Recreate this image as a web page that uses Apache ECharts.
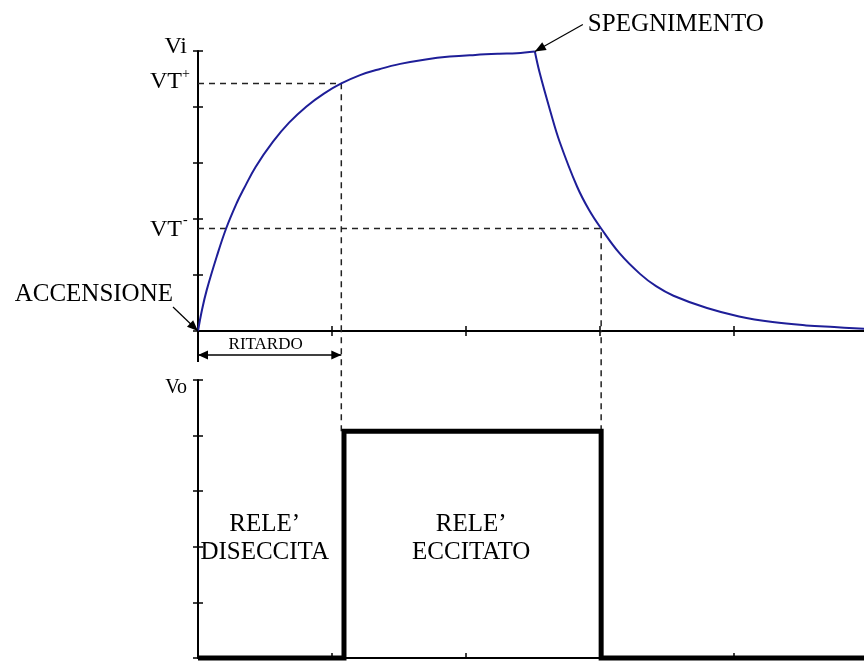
<!DOCTYPE html>
<html>
<head>
<meta charset="utf-8">
<script src="https://cdn.jsdelivr.net/npm/echarts/dist/echarts.min.js"></script>
<style>
html, body { margin: 0; padding: 0; background: #fff; }
#chart { width: 864px; height: 661px; }
</style>
</head>
<body>
<div id="chart"></div>
<script>
// ingresso Vi: carica fino all'accensione, poi scarica
var riseT = [0, 0.03, 0.065, 0.14, 0.21, 0.29, 0.34, 0.43, 0.56, 0.68, 0.81, 0.94, 1.07, 1.21, 1.36, 1.51, 1.70, 1.88, 2.07, 2.25, 2.38, 2.515]
var riseV = [0, 0.38, 0.73, 1.33, 1.83, 2.29, 2.53, 2.93, 3.38, 3.72, 4.01, 4.24, 4.42, 4.57, 4.68, 4.77, 4.85, 4.90, 4.93, 4.95, 4.96, 4.99]
var fallT = [2.515, 2.55, 2.63, 2.70, 2.83, 2.92, 3.01, 3.15, 3.30, 3.42, 3.55, 3.80, 4.04, 4.29, 4.54, 4.75, 4.98]
var fallV = [4.99, 4.62, 3.93, 3.38, 2.58, 2.16, 1.83, 1.38, 1.02, 0.80, 0.63, 0.41, 0.26, 0.16, 0.10, 0.07, 0.04]

// soglie e istanti di commutazione
var vtPlus = 4.42
var vtMinus = 1.83
var tOn = 1.07
var tOff = 3.01

// uscita Vo (relè)
var voT = [0, 1.09, 1.09, 3.01, 3.01, 4.98]
var voV = [0, 0, 4.08, 4.08, 0, 0]
var voHigh = 4.08

var tMax = 4.98

function zip (a, b) {
  var out = []
  for (var i = 0; i < a.length; i++) out.push([a[i], b[i]])
  return out
}

var serif = '"Liberation Serif", "Times New Roman", serif'
var dash = { color: '#222', width: 1.5, type: [6, 5] }

function axisX (grid, inside, showLine) {
  return {
    type: 'value', gridIndex: grid, min: 0, max: tMax, interval: 1, position: 'bottom',
    axisLine: { show: showLine, onZero: false, lineStyle: { color: '#000', width: 2 } },
    axisTick: { show: true, inside: inside, length: 5, lineStyle: { color: '#000', width: 1.5 } },
    axisLabel: { show: false },
    splitLine: { show: false }
  }
}

function axisY (grid, inside, showLine, label) {
  return {
    type: 'value', gridIndex: grid, min: 0, max: 5, interval: 1, position: 'left',
    axisLine: { show: showLine, onZero: false, lineStyle: { color: '#000', width: 2 } },
    axisTick: { show: true, inside: inside, length: 5, lineStyle: { color: '#000', width: 1.5 } },
    axisLabel: label || { show: false },
    splitLine: { show: false }
  }
}

var chart = echarts.init(document.getElementById('chart'))
chart.setOption({
  animation: false,
  backgroundColor: '#fff',
  grid: [
    { left: 198, top: 51, width: 667, height: 280, outerBoundsMode: 'none' },
    { left: 198, top: 380, width: 667, height: 278, outerBoundsMode: 'none' }
  ],
  xAxis: [
    axisX(0, false, true),
    axisX(0, true, false),
    axisX(1, true, true)
  ],
  yAxis: [
    axisY(0, false, true, {
      show: true, margin: 11, color: '#000', fontFamily: serif, fontSize: 24,
      verticalAlign: 'bottom', padding: [0, 0, -8, 0],
      formatter: function (v) { return v === 5 ? 'Vi' : '' }
    }),
    axisY(0, true, false),
    axisY(1, false, true, {
      show: true, margin: 11, color: '#000', fontFamily: serif, fontSize: 20,
      verticalAlign: 'top', padding: [-2, 0, 0, 0],
      formatter: function (v) { return v === 5 ? 'Vo' : '' }
    }),
    axisY(1, true, false)
  ],
  series: [
    {
      name: 'VT+', type: 'line', xAxisIndex: 0, yAxisIndex: 0, symbol: 'none', z: 1,
      lineStyle: dash, data: [[0, vtPlus], [tOn, vtPlus], [tOn, 0]]
    },
    {
      name: 'VT-', type: 'line', xAxisIndex: 0, yAxisIndex: 0, symbol: 'none', z: 1,
      lineStyle: dash, data: [[0, vtMinus], [tOff, vtMinus], [tOff, 0]]
    },
    {
      name: 'on-link', type: 'line', xAxisIndex: 2, yAxisIndex: 2, symbol: 'none', z: 1, clip: false,
      lineStyle: dash, data: [[tOn, voHigh], [tOn, 5.9]]
    },
    {
      name: 'off-link', type: 'line', xAxisIndex: 2, yAxisIndex: 2, symbol: 'none', z: 1, clip: false,
      lineStyle: dash, data: [[tOff, voHigh], [tOff, 5.9]]
    },
    {
      name: 'Vi carica', type: 'line', xAxisIndex: 0, yAxisIndex: 0, symbol: 'none', smooth: 0.4, z: 3,
      lineStyle: { color: '#1e1e98', width: 2 }, data: zip(riseT, riseV)
    },
    {
      name: 'Vi scarica', type: 'line', xAxisIndex: 0, yAxisIndex: 0, symbol: 'none', smooth: 0.4, z: 3,
      lineStyle: { color: '#1e1e98', width: 2 }, data: zip(fallT, fallV)
    },
    {
      name: 'Vo', type: 'line', xAxisIndex: 2, yAxisIndex: 2, symbol: 'none', z: 4, clip: false,
      lineStyle: { color: '#000', width: 5, join: 'miter' }, data: zip(voT, voV)
    }
  ]
})

// annotazioni agganciate ai punti del grafico
function head (x1, y1, x2, y2, len, w) {
  var a = Math.atan2(y2 - y1, x2 - x1)
  var c = Math.cos(a)
  var s = Math.sin(a)
  var bx = x2 - c * len
  var by = y2 - s * len
  return {
    type: 'polygon', z: 10,
    shape: { points: [[x2, y2], [bx - s * w / 2, by + c * w / 2], [bx + s * w / 2, by - c * w / 2]] },
    style: { fill: '#000' }
  }
}
function seg (x1, y1, x2, y2, w) {
  return { type: 'line', z: 10, shape: { x1: x1, y1: y1, x2: x2, y2: y2 }, style: { stroke: '#000', lineWidth: w || 1.2 } }
}
function txt (x, y, text, size, align) {
  return {
    type: 'text', z: 10, x: x, y: y,
    style: {
      text: text, fill: '#000', font: size + 'px ' + serif, lineHeight: 28,
      align: align, textAlign: align, verticalAlign: 'middle', textVerticalAlign: 'middle'
    }
  }
}

var top0 = { xAxisIndex: 0, yAxisIndex: 0 }
var bot0 = { xAxisIndex: 2, yAxisIndex: 2 }
var o = chart.convertToPixel(top0, [0, 0])
var p = chart.convertToPixel(top0, [riseT[riseT.length - 1], riseV[riseV.length - 1]])
var r = chart.convertToPixel(top0, [tOn, 0])
var vp = chart.convertToPixel(top0, [0, vtPlus])
var vm = chart.convertToPixel(top0, [0, vtMinus])
var b0 = chart.convertToPixel(bot0, [0, 0])
var bOn = chart.convertToPixel(bot0, [tOn, 0])
var bOff = chart.convertToPixel(bot0, [tOff, 0])
var ay = o[1] + 24

chart.setOption({
  graphic: [
    txt(vp[0] - 16, vp[1] - 2, 'VT', 24, 'right'),
    txt(vp[0] - 16, vp[1] - 9, '+', 14, 'left'),
    txt(vm[0] - 16, vm[1] + 1, 'VT', 24, 'right'),
    txt(vm[0] - 15, vm[1] - 8, '-', 14, 'left'),
    seg(o[0] - 25, o[1] - 24, o[0], o[1]),
    head(o[0] - 25, o[1] - 24, o[0], o[1], 11, 9),
    txt(o[0] - 25, o[1] - 37, 'ACCENSIONE', 25, 'right'),
    seg(p[0] + 48, p[1] - 27, p[0], p[1]),
    head(p[0] + 48, p[1] - 27, p[0], p[1], 11, 9),
    txt(p[0] + 53, p[1] - 27, 'SPEGNIMENTO', 25, 'left'),
    seg(o[0], o[1], o[0], o[1] + 31, 2),
    seg(o[0], ay, r[0], ay, 1.5),
    head(r[0], ay, o[0], ay, 10, 9),
    head(o[0], ay, r[0], ay, 10, 9),
    txt((o[0] + r[0]) / 2 - 4, o[1] + 14, 'RITARDO', 17, 'center'),
    txt((b0[0] + bOn[0]) / 2 - 5, b0[1] - 120, 'RELE\u2019\nDISECCITA', 25, 'center'),
    txt((bOn[0] + bOff[0]) / 2, b0[1] - 120, 'RELE\u2019\nECCITATO', 25, 'center')
  ]
})
</script>
</body>
</html>
